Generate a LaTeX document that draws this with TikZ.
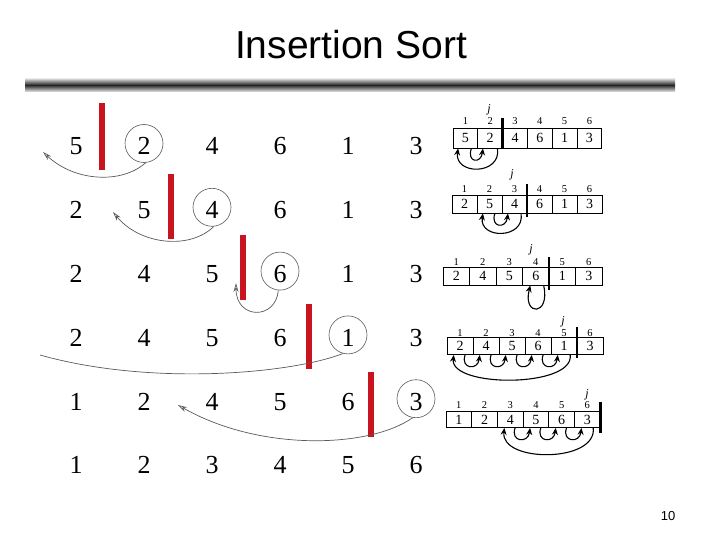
\documentclass[tikz,border=0pt]{standalone}
\usepackage{fontspec}
\setmainfont{Liberation Serif}
\newfontfamily\sansf{Liberation Sans}
\usetikzlibrary{arrows.meta}
\definecolor{barred}{HTML}{C8141E}
\definecolor{curvegray}{HTML}{5A5A5A}
\begin{document}
\begin{tikzpicture}[x=1pt,y=-1pt,
  num/.style={font=\fontsize{26}{26}\selectfont, inner sep=0pt, text height=17.6pt, text depth=0pt},
  circ/.style={draw=curvegray, line width=0.6pt, circle, minimum size=38pt, inner sep=0pt},
  redbar/.style={fill=barred},
  gcurve/.style={draw=curvegray, line width=0.7pt, -{Stealth[open,length=9pt,width=5pt]}},
  gline/.style={draw=curvegray, line width=0.7pt},
  cell/.style={draw, line width=0.8pt, inner sep=0pt, text height=9.5pt, text depth=0pt, font=\fontsize{14}{14}\selectfont},
  idx/.style={inner sep=0pt, text height=7pt, text depth=0pt, font=\fontsize{10.5}{10.5}\selectfont},
  jlab/.style={inner sep=0pt, font=\fontsize{12}{12}\selectfont\itshape},
  jbar/.style={line width=2.6pt},
  arr/.style={line width=1.1pt, -{Stealth[length=7pt,width=6pt]}}]
\useasboundingbox (0,0) rectangle (720,540);
\fill[white] (0,0) rectangle (720,540);

% title
\node[font=\sansf\fontsize{39}{39}\selectfont, inner sep=0pt] (title) at (351,45) {Insertion Sort};
% rule
\shade[top color=gray!15, bottom color=gray!15, middle color=black!85] (25,78) rectangle (675,92);

% left numbers
\foreach \r/\vals in {1/{5,2,4,6,1,3},2/{2,5,4,6,1,3},3/{2,4,5,6,1,3},4/{2,4,5,6,1,3},5/{1,2,4,5,6,3},6/{1,2,3,4,5,6}} {
  \foreach \v [count=\c] in \vals {
    \node[num] (n\r-\c) at (76+68*\c-68, 146+63.8*\r-63.8) {\v};
  }
}
% circles
\node[circ] (c1) at (144,143.5) {};
\node[circ] (c2) at (212,207.3) {};
\node[circ] (c3) at (280,271.1) {};
\node[circ] (c4) at (348,334.9) {};
\node[circ] (c5) at (416,398.7) {};

% red bars
\fill[redbar] (99,103) rectangle (105,170);
\fill[redbar] (168,174) rectangle (174,239);
\fill[redbar] (240,235) rectangle (246,300);
\fill[redbar] (306,304) rectangle (312,369);
\fill[redbar] (368,372) rectangle (374,437);

% curves
\coordinate (t1) at (43,152);
\coordinate (t2) at (113,212);
\coordinate (t3) at (236,283);
\coordinate (t4) at (40,355);
\coordinate (t5) at (178,405);
\draw[gcurve] (c1.-85) .. controls (122,184) and (75,182) .. (t1);
\draw[gcurve] (c2.-85) .. controls (190,250) and (140,245) .. (t2);
\draw[gcurve] (c3.-95) .. controls (276,320) and (236,320) .. (t3);
\draw[gline] (c4.-105) .. controls (290,374) and (150,386) .. (t4);
\draw[gcurve] (c5.-100) .. controls (370,448) and (260,452) .. (t5);

% array 1
\foreach \v [count=\c] in {5,2,4,6,1,3} {
  \node[cell, minimum width=24.8pt, minimum height=20pt] (a1-\c) at (453+24.8*\c-12.4,138) {\v};
  \node[idx] (a1i-\c) at (453+24.8*\c-12.4,121) {\c};
}
\node[jlab] (j1) at (489,110) {j};
\draw[jbar] (502.6,118) -- (502.6,149);
\draw[arr] (a1-1.-60) .. controls +(-5,14) and +(-2,16) .. (a1-2.-125);
\draw[arr] (a1-2.-55) .. controls +(4,27) and +(-4,27) .. (a1-1.-125);

% array 2
\foreach \v [count=\c] in {2,5,4,6,1,3} {
  \node[cell, minimum width=25pt, minimum height=18pt] (a2-\c) at (452+25*\c-12.5,204) {\v};
  \node[idx] (a2i-\c) at (452+25*\c-12.5,189) {\c};
}
\node[jlab] (j2) at (512,175) {j};
\draw[jbar] (527,184) -- (527,217);
\draw[arr] (a2-2.-60) .. controls +(-5,14) and +(-2,16) .. (a2-3.-125);
\draw[arr] (a2-3.-55) .. controls +(4,26) and +(-4,26) .. (a2-2.-125);

% array 3
\foreach \v [count=\c] in {2,4,5,6,1,3} {
  \node[cell, minimum width=26.5pt, minimum height=18pt] (a3-\c) at (443+26.5*\c-13.25,276) {\v};
  \node[idx] (a3i-\c) at (443+26.5*\c-13.25,262) {\c};
}
\node[jlab] (j3) at (531,250) {j};
\draw[jbar] (549,257) -- (549,290);
\draw[arr] (a3-4.-50) .. controls +(7,31) and +(-8,31) .. (a3-4.-120);

% array 4
\foreach \v [count=\c] in {2,4,5,6,1,3} {
  \node[cell, minimum width=26pt, minimum height=17pt] (a4-\c) at (447+26*\c-13,346) {\v};
  \node[idx] (a4i-\c) at (447+26*\c-13,333) {\c};
}
\node[jlab] (j4) at (563,322) {j};
\draw[jbar] (577,327) -- (577,358);
\foreach \k [evaluate=\k as \kk using int(\k+1)] in {1,2,3,4} {
  \draw[arr] (a4-\k.-60) .. controls +(-5,14) and +(-2,16) .. (a4-\kk.-125);
}
\draw[arr] (a4-5.-55) .. controls +(4,33) and +(-4,33) .. (a4-1.-125);

% array 5
\foreach \v [count=\c] in {1,2,4,5,6,3} {
  \node[cell, minimum width=25.7pt, minimum height=16pt] (a5-\c) at (446+25.7*\c-12.85,419.5) {\v};
  \node[idx] (a5i-\c) at (446+25.7*\c-12.85,405) {\c};
}
\node[jlab] (j5) at (587,395) {j};
\draw[jbar] (600.2,402) -- (600.2,433);
\foreach \k [evaluate=\k as \kk using int(\k+1)] in {3,4,5} {
  \draw[arr] (a5-\k.-60) .. controls +(-5,14) and +(-2,16) .. (a5-\kk.-125);
}
\draw[arr] (a5-6.-55) .. controls +(4,35) and +(-4,35) .. (a5-3.-125);

% page number
\node[font=\sansf\fontsize{13}{13}\selectfont, inner sep=0pt] (pg) at (668,516) {10};
\end{tikzpicture}
\end{document}
